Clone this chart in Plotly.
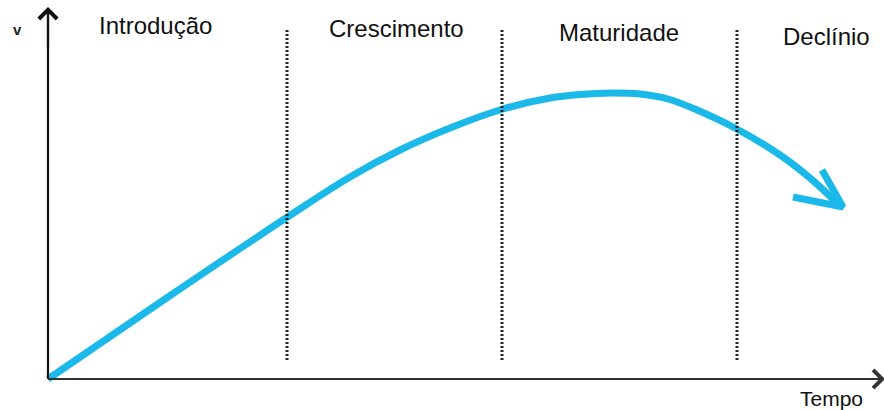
import plotly.graph_objects as go

# Data (time on x, sales on y)
tempo = [0, 120, 238, 302, 352, 402, 455, 502, 532, 562, 592, 620, 649, 687, 732, 762, 789]
vendas = [0, 82, 161, 202, 229, 251, 270, 281, 284.5, 286, 285, 280, 269, 251, 224, 201, 176]
# arrowhead (wing end, tip, wing end)
seta_t = [774, 795, 745]
seta_v = [209, 172, 182]

fases = ["Introdução", "Crescimento", "Maturidade", "Declínio"]
fase_pos_t = [107, 348, 571, 778]
fase_pos_v = [354, 351, 347, 343]
limites = [239, 454, 689]

eixo_x_label = "Tempo"
eixo_y_label = "v"

COR = "#1bb9e9"

fig = go.Figure()
fig.add_trace(go.Scatter(
    x=tempo, y=vendas, mode="lines",
    line=dict(color=COR, width=7, shape="spline", smoothing=1),
    hoverinfo="skip", showlegend=False,
))
fig.add_trace(go.Scatter(
    x=seta_t, y=seta_v, mode="lines",
    line=dict(color=COR, width=7),
    hoverinfo="skip", showlegend=False,
))

shapes = []
for b in limites:
    shapes.append(dict(type="line", xref="x", yref="y", x0=b, x1=b, y0=19, y1=351,
                       line=dict(color="#222222", width=3, dash="2px,2px")))
# axes lines
shapes.append(dict(type="line", xref="x", yref="y", x0=0, x1=0, y0=0, y1=368,
                   line=dict(color="#111111", width=2.2)))
shapes.append(dict(type="line", xref="x", yref="y", x0=0, x1=836, y0=0, y1=0,
                   line=dict(color="#333333", width=2.2)))

ann = []
# y axis arrow
ann.append(dict(x=0, y=372, ax=0, ay=330, xref="x", yref="y", axref="x", ayref="y",
                text="", showarrow=True, arrowhead=4, arrowsize=1.6, arrowwidth=2.2,
                arrowcolor="#111111", standoff=0))
# x axis arrow
ann.append(dict(x=837, y=0, ax=790, ay=0, xref="x", yref="y", axref="x", ayref="y",
                text="", showarrow=True, arrowhead=4, arrowsize=1.6, arrowwidth=2.2,
                arrowcolor="#333333", standoff=0))

for name, t, v in zip(fases, fase_pos_t, fase_pos_v):
    ann.append(dict(x=t, y=v, xref="x", yref="y", text=name, showarrow=False,
                    font=dict(family="Liberation Sans, Arial", size=24, color="#111111")))
ann.append(dict(x=783, y=-19, xref="x", yref="y", text=eixo_x_label, showarrow=False,
                font=dict(family="Liberation Sans, Arial", size=21, color="#111111")))
ann.append(dict(x=-31, y=350, xref="x", yref="y", text="<b>" + eixo_y_label + "</b>", showarrow=False,
                font=dict(family="Liberation Sans, Arial", size=15, color="#222222")))

fig.update_layout(
    width=884, height=410,
    margin=dict(l=0, r=0, t=0, b=0),
    paper_bgcolor="white", plot_bgcolor="white",
    xaxis=dict(range=[-48, 836], visible=False, fixedrange=True),
    yaxis=dict(range=[-31, 379], visible=False, fixedrange=True),
    shapes=shapes, annotations=ann, showlegend=False,
)

fig.write_html("out.html", config={"staticPlot": True},
               post_script="document.body.style.margin='0';document.body.style.overflow='hidden';")
